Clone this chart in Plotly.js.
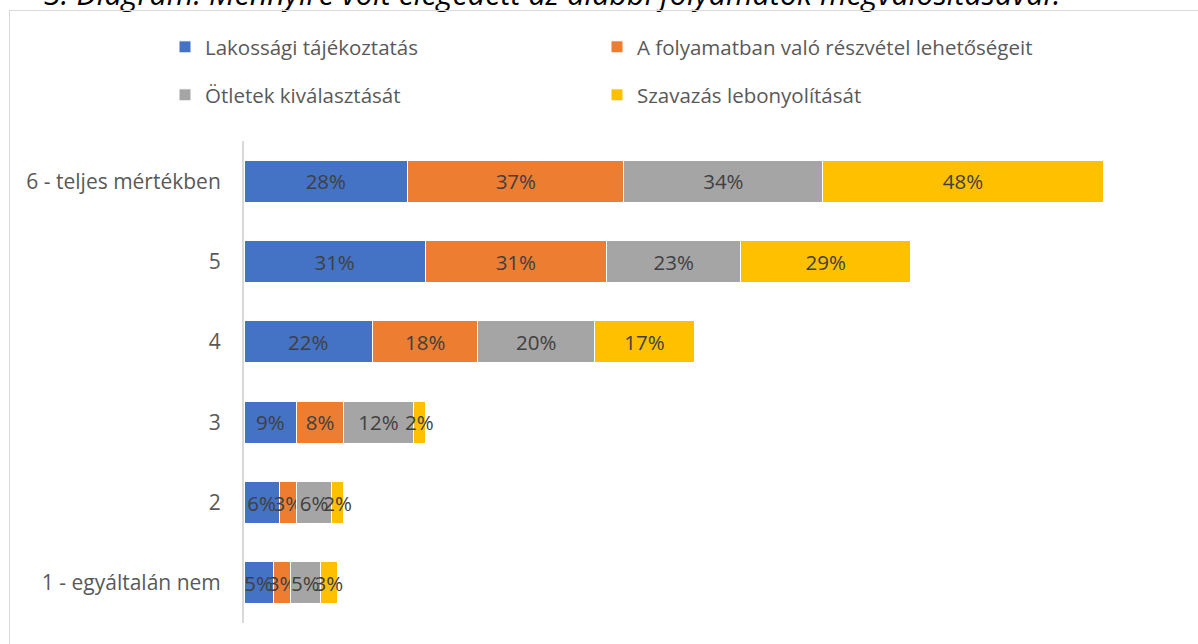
<!DOCTYPE html>
<html><head><meta charset="utf-8">
<script src="https://cdn.plot.ly/plotly-3.0.1.min.js"></script>
<style>
html,body{margin:0;padding:0;background:#fff;overflow:hidden;}
#frame{position:absolute;left:9px;top:10px;width:1200px;height:650px;border:1px solid #d9d9d9;box-sizing:border-box;pointer-events:none;z-index:2;}
#chart{position:absolute;left:0;top:0;width:1198px;height:644px;}
</style></head>
<body>
<div id="chart"></div>
<div id="frame"></div>
<script>
const categories = ['1 - egyáltalán nem','2','3','4','5','6 - teljes mértékben'];
const seriesNames = ['Lakossági tájékoztatás','A folyamatban való részvétel lehetőségeit','Ötletek kiválasztását','Szavazás lebonyolítását'];
const lakossagi = [5,6,9,22,31,28];
const reszvetel = [3,3,8,18,31,37];
const otletek = [5,6,12,20,23,34];
const szavazas = [3,2,2,17,29,48];
const titleText = '3. Diagram: Mennyire volt elégedett az alábbi folyamatok megvalósításával?';

const colors = ['#4472C4','#ED7D31','#A5A5A5','#FFC000'];
const values = [lakossagi, reszvetel, otletek, szavazas];
const FONT = '"Open Sans", sans-serif';

const W=1198,H=644,ml=244,mr=21,mt=141,mb=21;
const pw=W-ml-mr, ph=H-mt-mb;
const px=x=>(x-ml)/pw, py=y=>(H-mb-y)/ph;

const legendIds = ['legend','legend2','legend3','legend4'];
const traces = values.map((v,i)=>({
  type:'bar', orientation:'h', name:seriesNames[i], x:v, y:categories,
  marker:{color:colors[i], line:{color:'#ffffff', width:1}},
  texttemplate:'%{x}%', textposition:'inside', insidetextanchor:'middle',
  constraintext:'none', textangle:0, cliponaxis:false,
  textfont:{family:FONT, size:20.5, color:'#404040'},
  hoverinfo:'skip',
  legend: legendIds[i]
}));

const legendBase = {orientation:'h', xanchor:'left', yanchor:'middle',
  font:{family:FONT,size:20.5,color:'#595959'}, bgcolor:'rgba(0,0,0,0)', itemclick:false};
const legPos = [[165,47],[597,47],[165,95],[597,95]];

const layout = {
  width:W, height:H, margin:{l:ml,r:mr,t:mt,b:mb},
  paper_bgcolor:'#fff', plot_bgcolor:'#fff',
  barmode:'stack', bargap:0.48,
  showlegend:true,
  xaxis:{range:[0,159.6], showticklabels:false, showgrid:false, zeroline:false, showline:false, fixedrange:true},
  yaxis:{type:'category', categoryorder:'array', categoryarray:categories,
    showline:true, linecolor:'#d9d9d9', linewidth:2, showgrid:false, ticks:'', ticklabelstandoff:17,
    tickfont:{family:FONT,size:21,color:'#595959'}, fixedrange:true},
  annotations:[{xref:'paper', yref:'paper', x:px(42), y:py(16), xanchor:'left', yanchor:'bottom',
    text:'<i>'+titleText+'</i>', showarrow:false, font:{family:FONT,size:30.5,color:'#000'}}]
};
legendIds.forEach((id,i)=>{ layout[id] = Object.assign({}, legendBase, {x:px(legPos[i][0]), y:py(legPos[i][1])}); });
Plotly.newPlot('chart', traces, layout, {displayModeBar:false, staticPlot:true});
</script>
</body></html>
